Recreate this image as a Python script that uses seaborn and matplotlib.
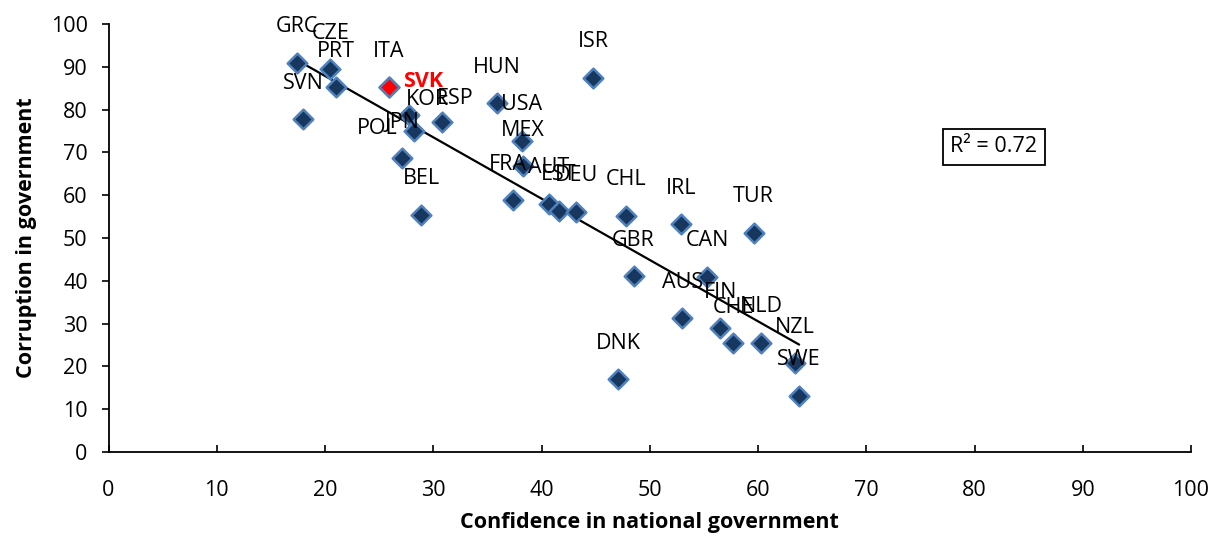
import numpy as np
import pandas as pd
import matplotlib
matplotlib.use("Agg")
import matplotlib.pyplot as plt
import seaborn as sns

# ---- data ----
countries = ["GRC", "CZE", "PRT", "SVN", "ITA", "KOR", "POL", "ESP", "JPN", "BEL",
             "HUN", "USA", "MEX", "ISR", "FRA", "AUT", "EST", "DEU", "CHL", "IRL",
             "TUR", "GBR", "CAN", "AUS", "DNK", "FIN", "CHE", "NLD", "NZL", "SWE", "SVK"]
confidence = [17.4, 20.5, 21.0, 18.0, 25.9, 27.8, 28.2, 30.8, 27.1, 28.9,
              35.9, 38.2, 38.3, 44.8, 37.4, 40.7, 41.6, 43.2, 47.8, 52.9,
              59.6, 48.5, 55.3, 53.0, 47.1, 56.5, 57.7, 60.3, 63.4, 63.8, 25.9]
corruption = [91.0, 89.4, 85.2, 77.7, 85.2, 78.7, 75.0, 77.2, 68.6, 55.4,
              81.5, 72.7, 66.8, 87.5, 58.9, 58.0, 56.4, 56.1, 55.2, 53.2,
              51.2, 41.1, 41.0, 31.2, 17.0, 28.9, 25.4, 25.5, 20.7, 13.2, 85.2]
highlight = "SVK"
r2_text = "R² = 0.72"
x_ticks = list(range(0, 101, 10))
y_ticks = list(range(0, 101, 10))

df = pd.DataFrame({"country": countries, "confidence": confidence, "corruption": corruption})

# label offsets (pixels) relative to each point; default is centred above
default_offset = (0, 36)
label_offsets = {"KOR": (18, 16), "POL": (-37, 3), "ESP": (13, 23), "FRA": (-5, 35),
                 "SVK": (34, 6)}

sns.set_theme(style="white")
plt.rcParams["font.family"] = ["Open Sans", "DejaVu Sans"]
plt.rcParams["text.color"] = "black"
plt.rcParams["axes.labelcolor"] = "black"
FS = 15.5

fig = plt.figure(figsize=(12.12, 5.39), dpi=100)
ax = fig.add_axes([108.5 / 1212, 1 - 452 / 539, (1191 - 108.5) / 1212, (452 - 24) / 539])

sns.regplot(data=df, x="confidence", y="corruption", ax=ax, scatter=False, ci=None,
            truncate=True, line_kws=dict(color="black", lw=1.6))

normal = df[df["country"] != highlight]
special = df[df["country"] == highlight]
sns.scatterplot(data=normal, x="confidence", y="corruption", ax=ax, marker="D", s=100,
                color="#17375E", edgecolor="#4F81BD", linewidth=1.8, zorder=3)
sns.scatterplot(data=special, x="confidence", y="corruption", ax=ax, marker="D", s=100,
                color="#FF0000", edgecolor="#4F81BD", linewidth=1.8, zorder=4)

for c, xv, yv in zip(countries, confidence, corruption):
    dx, dy = label_offsets.get(c, default_offset)
    if c == highlight:
        ax.annotate(c, (xv, yv), xytext=(dx, dy), textcoords="offset pixels",
                    ha="center", va="center", fontsize=FS, color="#FF0000",
                    fontweight="bold", zorder=5)
    else:
        ax.annotate(c, (xv, yv), xytext=(dx, dy), textcoords="offset pixels",
                    ha="center", va="center", fontsize=FS, color="black", zorder=5)

ax.text(81.8, 71.3, r2_text, ha="center", va="center", fontsize=FS,
        bbox=dict(boxstyle="square,pad=0.35", facecolor="white", edgecolor="black", lw=1.3))

ax.set_xlim(0, 100)
ax.set_ylim(0, 100)
ax.set_xticks(x_ticks)
ax.set_yticks(y_ticks)
ax.tick_params(axis="x", direction="in", length=5, width=1.2, labelsize=FS, pad=20, colors="black")
ax.tick_params(axis="y", direction="out", length=5, width=1.2, labelsize=FS, pad=10, colors="black")
ax.tick_params(axis="x", which="both", bottom=True)
ax.tick_params(axis="y", which="both", left=True)
for s in ["top", "right"]:
    ax.spines[s].set_visible(False)
for s in ["left", "bottom"]:
    ax.spines[s].set_color("black")
    ax.spines[s].set_linewidth(1.3)

ax.set_xlabel("Confidence in national government", fontsize=FS, fontweight="bold", labelpad=8)
ax.set_ylabel("Corruption in government", fontsize=FS, fontweight="bold", labelpad=10)

fig.savefig("out.png", dpi=100)
